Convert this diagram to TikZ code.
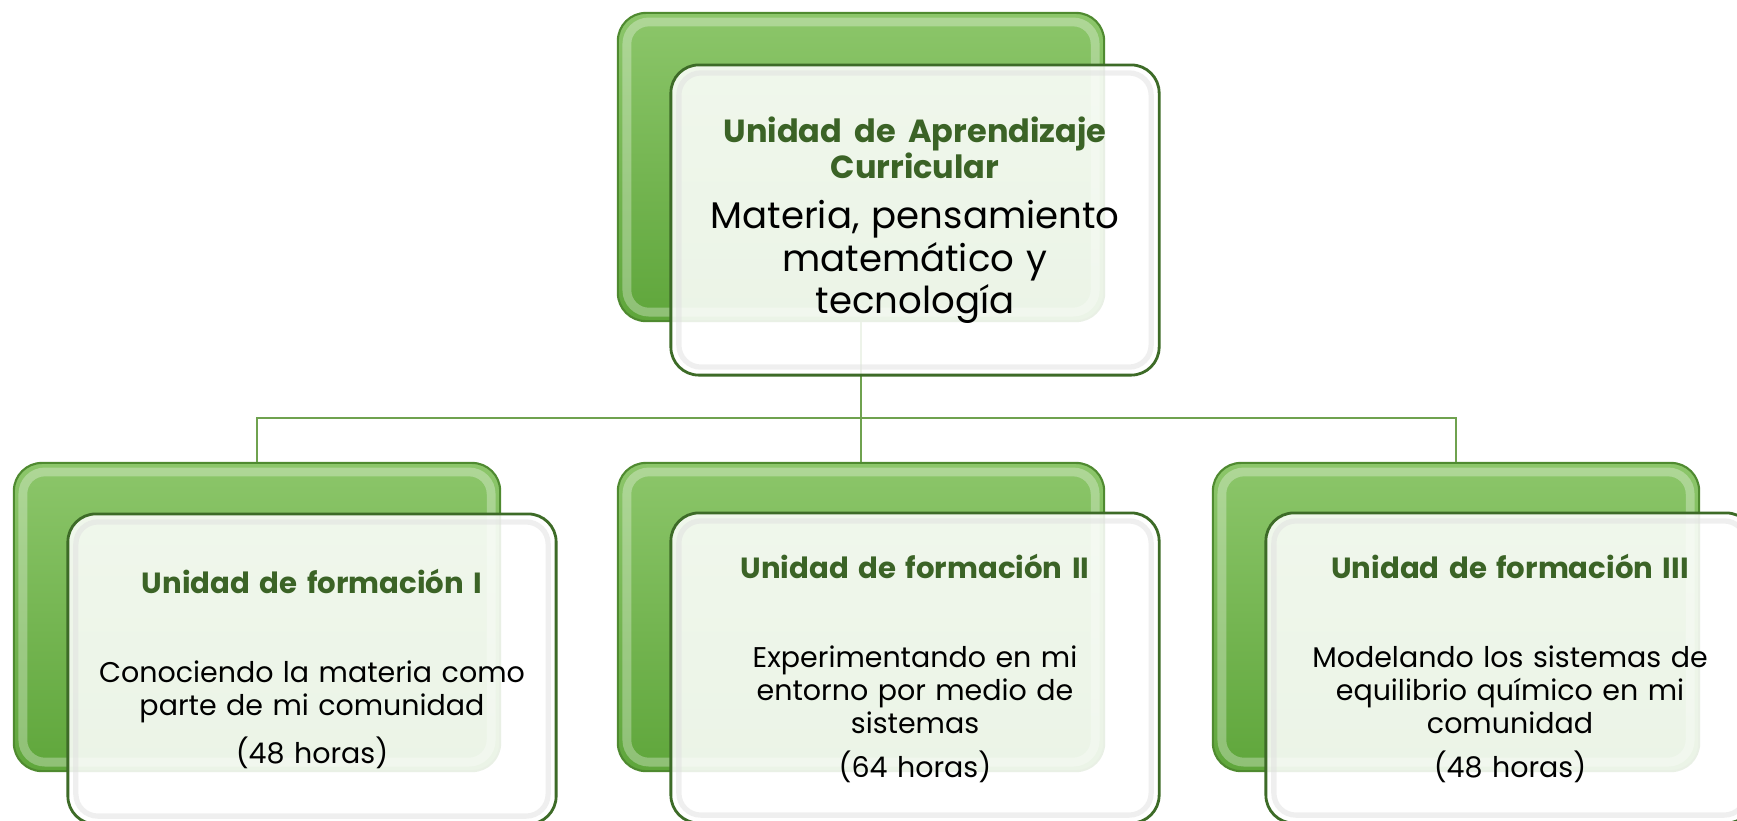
\documentclass[tikz,border=0pt]{standalone}
\usepackage{fontspec}
\setmainfont{Poppins}
\usetikzlibrary{calc}

\definecolor{leafdark}{HTML}{3B6326}
\definecolor{leafedge}{HTML}{4F8A30}
\definecolor{leaftop}{HTML}{8CC66A}
\definecolor{leafbot}{HTML}{5FA63B}
\definecolor{paneline}{HTML}{3D6B27}
\definecolor{linkgreen}{HTML}{6FA24F}

\newcommand{\unittitle}[1]{{\bfseries\color{leafdark}#1}}

\begin{document}
\begin{tikzpicture}
            [x=0.01cm, y=-0.01cm,
             back/.style={draw=leafedge, line width=0.6pt, rounded corners=0.28cm,
                          top color=leaftop, bottom color=leafbot,
                          minimum width=4.86cm, minimum height=3.08cm,
                          path picture={\draw[white, opacity=.3, line width=2.5pt, rounded corners=0.22cm]
                              ([shift={(9,9)}]path picture bounding box.north west) rectangle
                              ([shift={(-9,-9)}]path picture bounding box.south east);}},
             front/.style={draw=paneline, line width=0.8pt, rounded corners=0.28cm,
                           fill=white, fill opacity=0.88, text opacity=1,
                           minimum width=4.88cm, minimum height=3.1cm,
                           align=center, text width=4.6cm,
                           path picture={\draw[black!12, opacity=.5, line width=1.5pt, rounded corners=0.22cm]
                              ([shift={(8,8)}]path picture bounding box.north west) rectangle
                              ([shift={(-8,-8)}]path picture bounding box.south east);}},
             link/.style={draw=linkgreen, line width=0.8pt}]
            \clip (0,0) rectangle (1737,820);

            \node[back] (topback) at (861, 167) {};
            \node[back] (u1back) at (257, 617) {};
            \node[back] (u2back) at (861, 617) {};
            \node[back] (u3back) at (1456, 617) {};

            \coordinate (bus) at (861, 418);
            \path [link] (topback.south) -- (u2back.north);
            \path [link] (u1back.north) |- (bus) -| (u3back.north);

            \node[front, font=\fontsize{10.55}{12.1}\selectfont] (topfront) at (915, 220)
                {{\fontsize{9.1}{10.6}\selectfont\unittitle{Unidad de Aprendizaje}}\\[-1.6pt]
                 {\fontsize{9.1}{10.6}\selectfont\unittitle{Curricular}}\\[2pt]
                 Materia, pensamiento\\ matemático y\\ tecnología};
            \node[front, font=\fontsize{8.1}{9.4}\selectfont] (u1front) at (312, 669)
                {{\fontsize{8.3}{9.4}\selectfont\unittitle{Unidad de formación I}}\\[16pt]
                 Conociendo la materia como\\ parte de mi comunidad\\[3pt]
                 (48 horas)};
            \node[front, font=\fontsize{8.1}{9.4}\selectfont] (u2front) at (915, 668)
                {{\fontsize{8.3}{9.4}\selectfont\unittitle{Unidad de formación II}}\\[16pt]
                 Experimentando en mi\\ entorno por medio de\\ sistemas\\[3pt]
                 (64 horas)};
            \node[front, font=\fontsize{8.1}{9.4}\selectfont] (u3front) at (1510, 668)
                {{\fontsize{8.3}{9.4}\selectfont\unittitle{Unidad de formación III}}\\[16pt]
                 Modelando los sistemas de\\ equilibrio químico en mi\\ comunidad\\[3pt]
                 (48 horas)};
        \end{tikzpicture}
\end{document}
